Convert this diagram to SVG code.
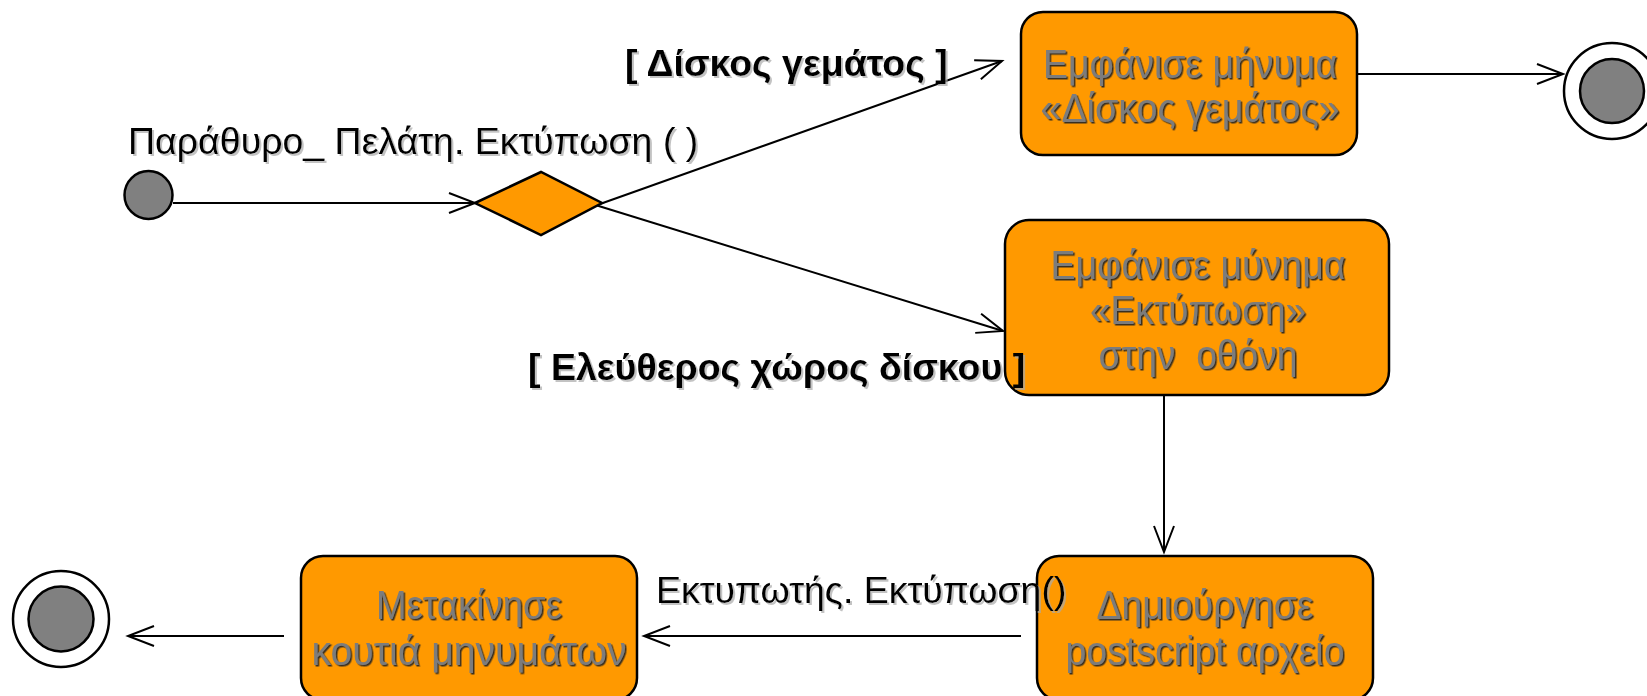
<svg xmlns="http://www.w3.org/2000/svg" width="1647" height="696" viewBox="0 0 1647 696">
  <defs>
    <marker id="arr" markerUnits="userSpaceOnUse" markerWidth="32" markerHeight="26" refX="27" refY="11" orient="auto">
      <path d="M1,1 L27,11 L1,21" fill="none" stroke="#000" stroke-width="2"/>
    </marker>
    <filter id="boxShadow" x="-5%" y="-20%" width="110%" height="140%">
      <feDropShadow dx="1.5" dy="1.5" stdDeviation="0.4" flood-color="#222" flood-opacity="0.9"/>
    </filter>
    <filter id="labShadow" x="-5%" y="-20%" width="110%" height="140%">
      <feDropShadow dx="2" dy="2" stdDeviation="0.6" flood-color="#aaa" flood-opacity="0.7"/>
    </filter>
  </defs>
  <style>
    .act { fill: #FF9900; stroke: #000; stroke-width: 2.5; }
    .dot { fill: #808080; stroke: #000; stroke-width: 2.5; }
    .ring { fill: #fff; stroke: #000; stroke-width: 2.5; }
    .bt { font-family: "Liberation Sans", Arial, sans-serif; font-size: 40px; fill: #7c7c7c; text-anchor: middle; filter: url(#boxShadow); }
    .lab { font-family: "Liberation Sans", Arial, sans-serif; font-size: 37.5px; fill: #000; filter: url(#labShadow); }
    .bold { font-weight: bold; }
    .conn line { stroke: #000; stroke-width: 2; marker-end: url(#arr); }
  </style>
  <rect width="1647" height="696" fill="#fff"/>

  <g id="connectors" class="conn">
    <line x1="173" y1="203" x2="475" y2="203"/>
    <line x1="600" y1="204" x2="1002" y2="61"/>
    <line x1="589" y1="203" x2="1003" y2="331"/>
    <line x1="1357" y1="74" x2="1563" y2="74"/>
    <line x1="1164" y1="395" x2="1164" y2="552"/>
    <line x1="1021" y1="636" x2="644" y2="636"/>
    <line x1="284" y1="636" x2="128" y2="636"/>
  </g>

  <g id="initial">
    <circle class="dot" cx="148.5" cy="195" r="24"/>
  </g>

  <g id="decision">
    <polygon class="act" points="475,203 541,172 602,203 541,235"/>
  </g>

  <g id="disk-full">
    <rect class="act" x="1021" y="12" width="336" height="143" rx="22" ry="22"/>
    <text class="bt" x="1190" y="78" textLength="294" lengthAdjust="spacingAndGlyphs">Εμφάνισε μήνυμα</text>
    <text class="bt" x="1190" y="122" textLength="299" lengthAdjust="spacingAndGlyphs">«Δίσκος γεμάτος»</text>
  </g>

  <g id="final-top">
    <circle class="ring" cx="1612" cy="91" r="48"/>
    <circle class="dot" cx="1612" cy="91" r="32"/>
  </g>

  <g id="show-print">
    <rect class="act" x="1005" y="220" width="384" height="175" rx="24" ry="24"/>
    <text class="bt" x="1198" y="279" textLength="295" lengthAdjust="spacingAndGlyphs">Εμφάνισε μύνημα</text>
    <text class="bt" x="1198" y="324" textLength="216" lengthAdjust="spacingAndGlyphs">«Εκτύπωση»</text>
    <text class="bt" x="1198" y="369" textLength="199" lengthAdjust="spacingAndGlyphs" xml:space="preserve">στην  οθόνη</text>
  </g>

  <g id="create-ps">
    <rect class="act" x="1037" y="556" width="336" height="144" rx="22" ry="22"/>
    <text class="bt" x="1205" y="619" textLength="217" lengthAdjust="spacingAndGlyphs">Δημιούργησε</text>
    <text class="bt" x="1205" y="665" textLength="279" lengthAdjust="spacingAndGlyphs">postscript αρχείο</text>
  </g>

  <g id="move-box">
    <rect class="act" x="301" y="556" width="336" height="144" rx="22" ry="22"/>
    <text class="bt" x="469" y="619" textLength="186" lengthAdjust="spacingAndGlyphs">Μετακίνησε</text>
    <text class="bt" x="469" y="665" textLength="315" lengthAdjust="spacingAndGlyphs">κουτιά μηνυμάτων</text>
  </g>

  <g id="final-bottom">
    <circle class="ring" cx="61" cy="619" r="48"/>
    <circle class="dot" cx="61" cy="619" r="32.5"/>
  </g>

  <g id="labels">
    <text class="lab" x="128" y="154">Παράθυρο_ Πελάτη. Εκτύπωση ( )</text>
    <text class="lab bold" x="625" y="76">[ Δίσκος γεμάτος ]</text>
    <text class="lab bold" x="528" y="380">[ Ελεύθερος χώρος δίσκου ]</text>
    <text class="lab" x="656" y="603">Εκτυπωτής. Εκτύπωση()</text>
  </g>
</svg>
